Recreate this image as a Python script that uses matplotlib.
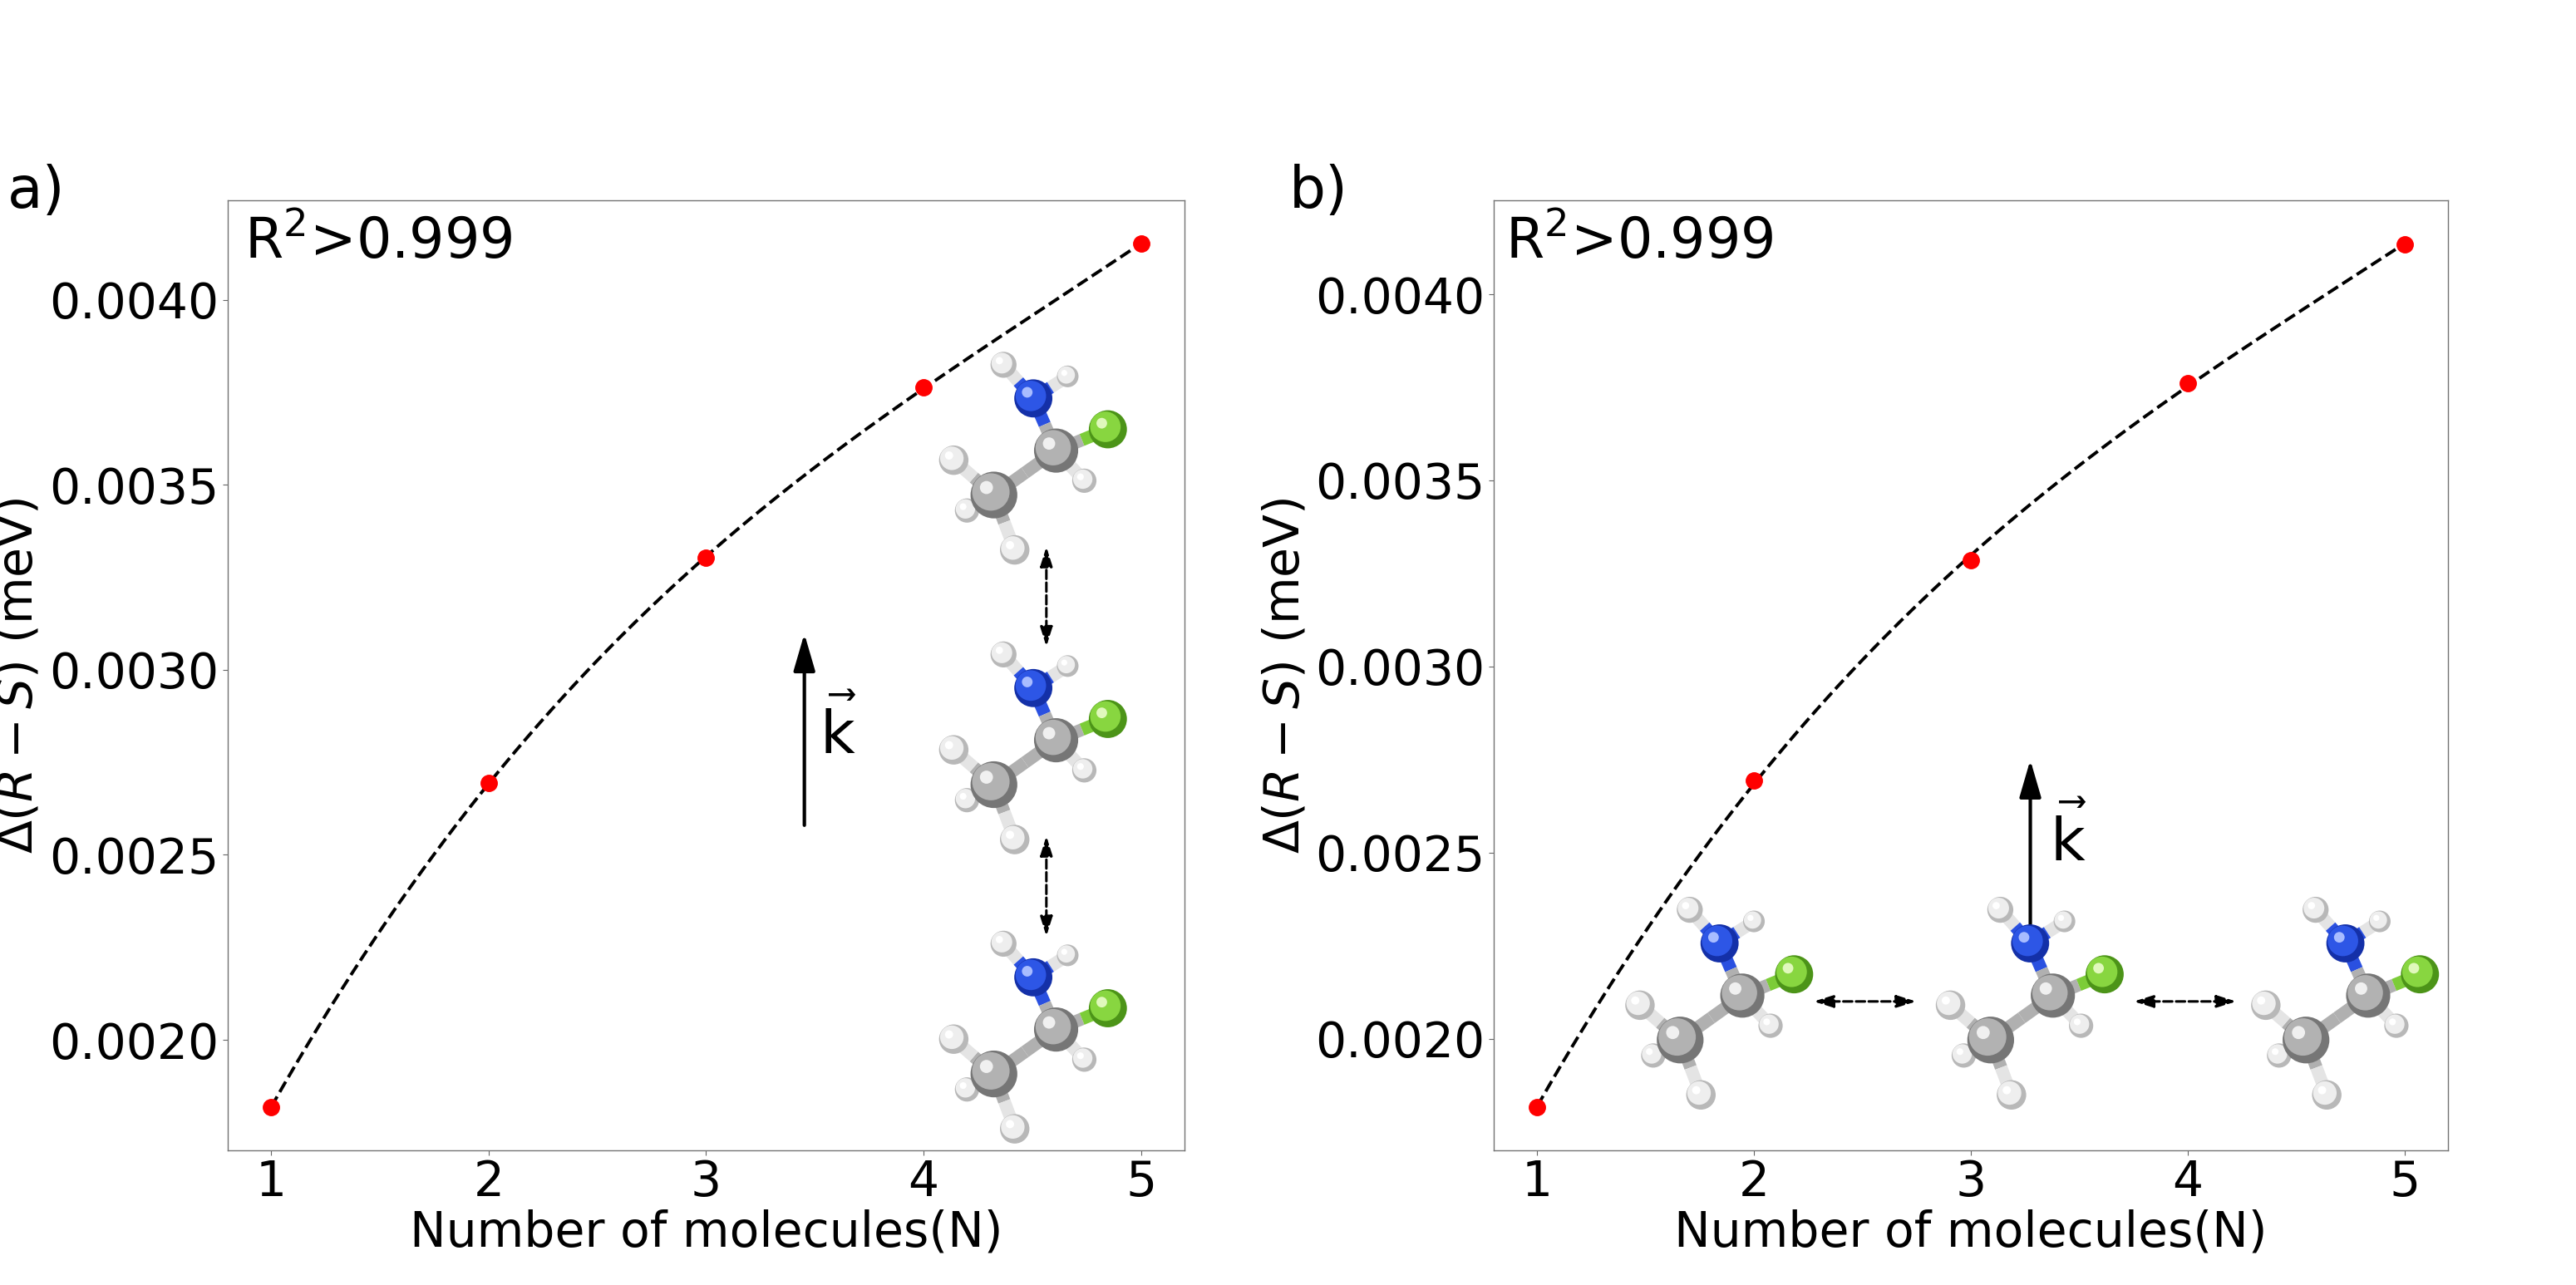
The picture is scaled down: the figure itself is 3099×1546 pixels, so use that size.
import numpy as np
import matplotlib
matplotlib.use('Agg')
import matplotlib.pyplot as plt
from matplotlib.patches import Circle
from matplotlib.lines import Line2D
from matplotlib.offsetbox import DrawingArea, AnnotationBbox

# data
n_molecules = [1, 2, 3, 4, 5]
delta_a = [0.001818, 0.002695, 0.003303, 0.003763, 0.004152]
delta_b = [0.001816, 0.002694, 0.003285, 0.003762, 0.004134]
r2_text = r'R$^2$>0.999'
panel_labels = ['a)', 'b)']
xlabel = 'Number of molecules(N)'
ylabel = r'$\Delta(R-S)$ (meV)'

FS = 42

# ball and stick sketch of the molecule (pixel offsets, y up)
ATOM_COLORS = {
    'C': ('#767676', '#b2b2b2', '#f0f0f0'),
    'H': ('#b8b8b8', '#eeeeee', '#ffffff'),
    'N': ('#1430a8', '#2d56e6', '#a8bcff'),
    'F': ('#4c9418', '#88d640', '#e0f8bc'),
}
BOND_COLORS = {'C': '#b0b0b0', 'H': '#e4e4e4', 'N': '#2a50e0', 'F': '#7ccc38'}
atoms = [
    ('He', 'H', -76.6, -60.3, 14.0),
    ('Hd', 'H', -91.9, -2.2, 17.0),
    ('Hf', 'H', -21.5, -105.8, 17.0),
    ('C1', 'C', -45.5, -42.4, 27.0),
    ('Hc', 'H', 58.9, -25.9, 14.0),
    ('C2', 'C', 26.3, 8.9, 25.5),
    ('Hb', 'H', 39.7, 94.6, 12.5),
    ('Ha', 'H', -34.4, 108.0, 15.0),
    ('N', 'N', 0.0, 69.2, 22.0),
    ('F', 'F', 86.1, 33.5, 22.0),
]
bonds = [('Ha', 'N'), ('Hb', 'N'), ('N', 'C2'), ('C2', 'F'), ('C2', 'Hc'),
         ('C2', 'C1'), ('C1', 'Hd'), ('C1', 'He'), ('C1', 'Hf')]


def molecule_box(scale=0.75):
    W, H = 260 * scale, 280 * scale
    da = DrawingArea(W, H, W / 2, H / 2)
    pos = {a[0]: (a[2] * scale, a[3] * scale, a[1]) for a in atoms}
    for a, b in bonds:
        x1, y1, e1 = pos[a]
        x2, y2, e2 = pos[b]
        xm, ym = (x1 + x2) / 2, (y1 + y2) / 2
        da.add_artist(Line2D([x1, xm], [y1, ym], lw=11, color=BOND_COLORS[e1],
                             solid_capstyle='butt'))
        da.add_artist(Line2D([xm, x2], [ym, y2], lw=11, color=BOND_COLORS[e2],
                             solid_capstyle='butt'))
    for name, elem, x, y, r in atoms:
        x, y, r = x * scale, y * scale, r * scale
        base, mid, hi = ATOM_COLORS[elem]
        da.add_artist(Circle((x, y), r, fc=base, ec='none'))
        da.add_artist(Circle((x - 0.13 * r, y + 0.13 * r), 0.8 * r, fc=mid, ec='none'))
        da.add_artist(Circle((x - 0.32 * r, y + 0.32 * r), 0.28 * r, fc=hi, ec='none'))
    return da


def add_molecule(ax, xy):
    ab = AnnotationBbox(molecule_box(), xy, xycoords='data', frameon=False,
                        pad=0, box_alignment=(0.5, 0.5), zorder=5)
    ax.add_artist(ab)


def dashed_double(ax, p0, p1):
    ax.annotate('', xy=p1, xytext=p0,
                arrowprops=dict(arrowstyle='<|-|>,head_length=0.7,head_width=0.22',
                                ls=(0, (3.5, 1.5)), lw=2.2, color='k',
                                mutation_scale=20, shrinkA=0, shrinkB=0))


def k_arrow(ax, p0, p1, label_xy):
    ax.annotate('', xy=p1, xytext=p0,
                arrowprops=dict(arrowstyle='-|>,head_length=0.55,head_width=0.16',
                                lw=3, color='k', mutation_scale=50,
                                shrinkA=0, shrinkB=0), zorder=3)
    ax.text(label_xy[0], label_xy[1], r'$\vec{\mathrm{k}}$', fontsize=FS + 10,
            ha='center', va='center')


fig = plt.figure(figsize=(30.99, 15.46), dpi=100)
ax_a = fig.add_axes([0.0884, 0.1048, 0.3714, 0.7393])
ax_b = fig.add_axes([0.5799, 0.1048, 0.3704, 0.7393])

xfit = np.linspace(1, 5, 300)
for ax, vals, tx in [(ax_a, delta_a, 0.017), (ax_b, delta_b, 0.012)]:
    coef = np.polyfit(n_molecules, vals, 3)
    ax.plot(xfit, np.polyval(coef, xfit), '--', color='k', lw=2.8, zorder=2)
    ax.plot(n_molecules, vals, 'o', color='red', ms=14, zorder=4)
    ax.set_xticks(n_molecules)
    ax.set_yticks([0.0020, 0.0025, 0.0030, 0.0035, 0.0040])
    ax.set_yticklabels(['0.0020', '0.0025', '0.0030', '0.0035', '0.0040'])
    ax.tick_params(labelsize=FS, color='0.4', length=4)
    ax.set_xlabel(xlabel, fontsize=FS, labelpad=2)
    ax.set_ylabel(ylabel, fontsize=FS, labelpad=6)
    for s in ax.spines.values():
        s.set_color('0.45')
        s.set_linewidth(1.0)
    ax.text(tx, 0.985, r2_text, transform=ax.transAxes, fontsize=FS + 6,
            ha='left', va='top')

# panel a: molecules stacked along k
for yc in [0.003572, 0.002789, 0.002007]:
    add_molecule(ax_a, (4.505, yc))
dashed_double(ax_a, (4.565, 0.003063), (4.565, 0.003333))
dashed_double(ax_a, (4.565, 0.00228), (4.565, 0.002551))
k_arrow(ax_a, (3.452, 0.00258), (3.452, 0.003098), (3.607, 0.002830))

# panel b: molecules side by side
for xc in [1.841, 3.273, 4.727]:
    add_molecule(ax_b, (xc, 0.002095))
dashed_double(ax_b, (2.275, 0.0021), (2.748, 0.0021))
dashed_double(ax_b, (3.751, 0.0021), (4.224, 0.0021))
k_arrow(ax_b, (3.274, 0.00229), (3.274, 0.002749), (3.448, 0.002535))

fig.text(0.003, 0.838, panel_labels[0], fontsize=FS + 8, ha='left', va='baseline')
fig.text(0.5005, 0.838, panel_labels[1], fontsize=FS + 8, ha='left', va='baseline')

fig.savefig('out.png', dpi=100)
